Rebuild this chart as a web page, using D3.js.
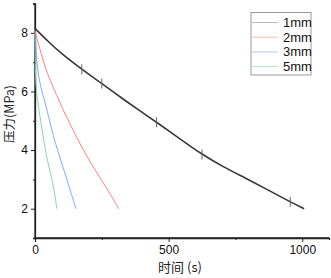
<!DOCTYPE html>
<html lang='en'>
    <head>
        <script src="https://d3js.org/d3.v7.min.js"></script>
        <style>
            body { margin:0; background:white; }
            svg { display:block; font-family: "Liberation Sans", Arial, sans-serif; }
        </style>
    </head>
    <body>
        <svg id="chart" width="331" height="278"></svg>
    </body>
    <script>
        // data (time in s, pressure in MPa)
        const t1 = [0, 50, 93, 175, 250, 320, 392, 455, 540, 623, 700, 784, 870, 951, 1007];
        const p1 = [8.15, 7.7, 7.33, 6.75, 6.27, 5.8, 5.34, 4.95, 4.4, 3.86, 3.45, 3.06, 2.65, 2.25, 2.0];
        const t2 = [0, 19, 37, 56, 82, 105, 130, 157, 180, 205, 230, 254, 285, 313];
        const p2 = [8.05, 7.42, 6.85, 6.38, 5.85, 5.38, 4.9, 4.42, 4.02, 3.62, 3.25, 2.9, 2.45, 2.0];
        const t3 = [0, 3, 7, 15, 26, 45, 67, 100, 123, 153];
        const p3 = [8.1, 7.5, 7.0, 6.4, 6.0, 5.38, 4.5, 3.55, 2.9, 2.0];
        const t5 = [0, 1, 2, 4, 15, 30, 48, 67, 82];
        const p5 = [8.0, 7.3, 6.6, 6.06, 5.38, 4.46, 3.55, 2.9, 2.0];
        const spikes = [175, 250, 455, 625, 955]; // little noise spikes on the 1mm curve
        const names = ["1mm", "2mm", "3mm", "5mm"];
        const colors = ["#383838", "#ff8080", "#80a8ff", "#80d8a8"];
        const legendColors = ["#bbbbbb", "#ffb4b4", "#b4c8f4", "#b4e4c8"];
        const xTicks = [0, 500, 1000];
        const yTicks = [2, 4, 6, 8];

        const svg = d3.select("#chart");
        const x = d3.scaleLinear().domain([0, 1100]).range([35, 329]);
        const y = d3.scaleLinear().domain([1, 9]).range([238, 3.5]);

        // axes
        const xAxis = svg.append("g").attr("transform", "translate(0,238)")
            .call(d3.axisBottom(x).tickValues(xTicks).tickSize(4).tickPadding(3).tickFormat(d3.format("d")));
        svg.append("g").attr("transform", "translate(0,238)")
            .call(d3.axisBottom(x).tickValues([250, 750]).tickSize(2).tickFormat(""));
        const yAxis = svg.append("g").attr("transform", "translate(35,0)")
            .call(d3.axisLeft(y).tickValues(yTicks).tickSize(4).tickPadding(3));
        svg.append("g").attr("transform", "translate(35,0)")
            .call(d3.axisLeft(y).tickValues([3, 5, 7, 9]).tickSize(2).tickFormat(""));
        svg.selectAll(".domain").attr("stroke", "#222").attr("stroke-width", 1.3);
        svg.selectAll(".tick line").attr("stroke", "#222");
        svg.selectAll(".tick text").attr("font-size", 12).attr("fill", "#111")
            .attr("font-family", "'Liberation Sans', Arial, sans-serif");
        // no outer ticks on the axis lines
        xAxis.select(".domain").attr("d", "M35,0H329");
        yAxis.select(".domain").attr("d", "M0,238V3.5");

        // titles
        svg.append("text").attr("x", 180).attr("y", 272).attr("text-anchor", "middle")
            .attr("font-size", 13).attr("fill", "#222")
            .text("时间 (s)").style("font-family", "'Noto Sans CJK SC', 'Liberation Sans', sans-serif");
        svg.append("text").attr("transform", "translate(14,114) rotate(-90)").attr("text-anchor", "middle")
            .attr("font-size", 12.5).attr("fill", "#222")
            .text("压力(MPa)").style("font-family", "'Noto Sans CJK SC', 'Liberation Sans', sans-serif");

        // curves
        const line = d3.line().x(d => x(d[0])).y(d => y(d[1])).curve(d3.curveBasis);
        const series = [d3.zip(t1, p1), d3.zip(t2, p2), d3.zip(t3, p3), d3.zip(t5, p5)];
        svg.selectAll("path.curve")
            .data(series.slice().reverse())
            .join("path")
            .attr("class", "curve")
            .attr("fill", "none")
            .attr("stroke", (d, i) => colors[3 - i])
            .attr("stroke-width", (d, i) => i == 3 ? 1.6 : 1)
            .attr("d", line);

        // noise spikes on the black curve
        const interp = d3.scaleLinear().domain(t1).range(p1);
        svg.selectAll("line.spike")
            .data(spikes)
            .join("line")
            .attr("x1", d => x(d)).attr("x2", d => x(d))
            .attr("y1", d => y(interp(d) + 0.17)).attr("y2", d => y(interp(d) - 0.17))
            .attr("stroke", "#666").attr("stroke-width", 1);

        // legend
        const legend = svg.append("g");
        legend.append("rect").attr("x", 251).attr("y", 12.5).attr("width", 60).attr("height", 62.5)
            .attr("fill", "white").attr("stroke", "#999").attr("stroke-width", 1);
        const items = legend.selectAll("g.item").data(names).join("g")
            .attr("transform", (d, i) => `translate(0,${22.5 + i * 14.7})`);
        items.append("line").attr("x1", 252).attr("x2", 278).attr("y1", 0).attr("y2", 0)
            .attr("stroke", (d, i) => legendColors[i]).attr("stroke-width", 1);
        items.append("text").attr("x", 283).attr("y", 4.5).attr("font-size", 13).attr("fill", "#111")
            .text(d => d);
    </script>
</html>
